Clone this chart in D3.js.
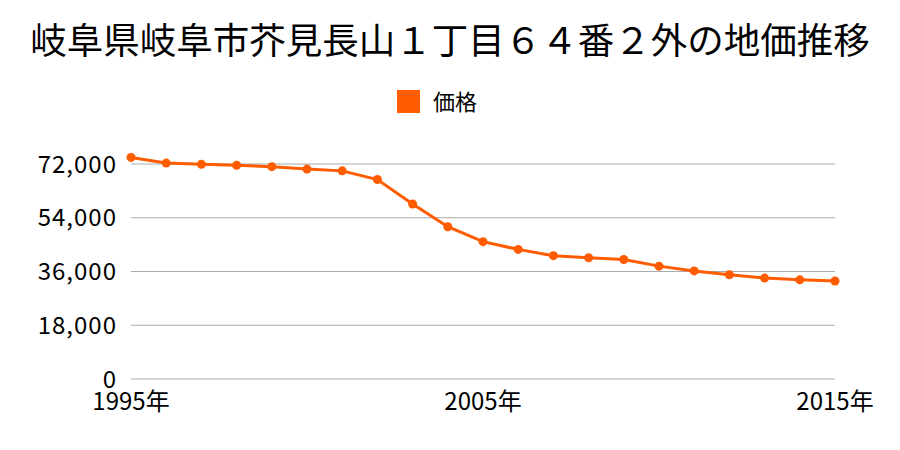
<!DOCTYPE html>
<html>
<head>
<meta charset="utf-8">
<script src="https://cdn.jsdelivr.net/npm/d3@7"></script>
<style>
  body { margin: 0; background: #fff; }
  text { font-family: "Noto Sans CJK JP", "Noto Sans", sans-serif; fill: #000; }
</style>
</head>
<body>
<div id="chart"></div>
<script>
const title = '岐阜県岐阜市芥見長山１丁目６４番２外の地価推移';
const seriesName = '価格';
const years = [1995, 1996, 1997, 1998, 1999, 2000, 2001, 2002, 2003, 2004, 2005,
  2006, 2007, 2008, 2009, 2010, 2011, 2012, 2013, 2014, 2015];
const prices = [74200, 72300, 71900, 71600, 71100, 70300, 69700, 66800, 58600, 51000, 46000,
  43400, 41300, 40600, 40000, 37800, 36200, 34900, 33800, 33200, 32800];
const yTicks = [0, 18000, 36000, 54000, 72000];
const xTicks = [1995, 2005, 2015];

const W = 900, H = 450;
const margin = { t: 164, r: 65, b: 71, l: 131 };
const innerWidth = W - margin.l - margin.r;
const innerHeight = H - margin.t - margin.b;
const orange = '#ff5c00';

const svg = d3.select('#chart').append('svg')
  .attr('width', W)
  .attr('height', H);

svg.append('text')
  .attr('x', W / 2)
  .attr('y', 54)
  .attr('text-anchor', 'middle')
  .style('font-size', '36.5px')
  .text(title);

// legend
svg.append('rect')
  .attr('x', 397).attr('y', 90)
  .attr('width', 23).attr('height', 23)
  .attr('fill', orange);
svg.append('text')
  .attr('x', 433).attr('y', 110)
  .style('font-size', '22px')
  .text(seriesName);

const x = d3.scaleLinear().domain([1995, 2015]).range([0, innerWidth]);
const y = d3.scaleLinear().domain([0, 72000]).range([innerHeight, 0]);

const plot = svg.append('g')
  .attr('transform', `translate(${margin.l}, ${margin.t})`);

// grid
plot.selectAll('.grid')
  .data(yTicks)
  .enter().append('line')
  .attr('class', 'grid')
  .attr('x1', 0).attr('x2', innerWidth)
  .attr('y1', d => y(d)).attr('y2', d => y(d))
  .attr('stroke', '#aaaaaa')
  .attr('stroke-width', 1);

plot.selectAll('.ylab')
  .data(yTicks)
  .enter().append('text')
  .attr('class', 'ylab')
  .attr('x', -14)
  .attr('y', d => y(d) + 8.5)
  .attr('text-anchor', 'end')
  .style('font-size', '24px')
  .style('letter-spacing', '1px')
  .text(d => d3.format(',')(d));

plot.selectAll('.xlab')
  .data(xTicks)
  .enter().append('text')
  .attr('class', 'xlab')
  .attr('x', d => x(d))
  .attr('y', innerHeight + 31)
  .attr('text-anchor', 'middle')
  .style('font-size', '24px')
  .text(d => d + '年');

const data = years.map((yr, i) => ({ year: yr, value: prices[i] }));

const line = d3.line()
  .x(d => x(d.year))
  .y(d => y(d.value));

plot.append('path')
  .datum(data)
  .attr('d', line)
  .attr('fill', 'none')
  .attr('stroke', orange)
  .attr('stroke-width', 3);

plot.selectAll('.dot')
  .data(data)
  .enter().append('circle')
  .attr('class', 'dot')
  .attr('cx', d => x(d.year))
  .attr('cy', d => y(d.value))
  .attr('r', 4.5)
  .attr('fill', orange);
</script>
</body>
</html>
